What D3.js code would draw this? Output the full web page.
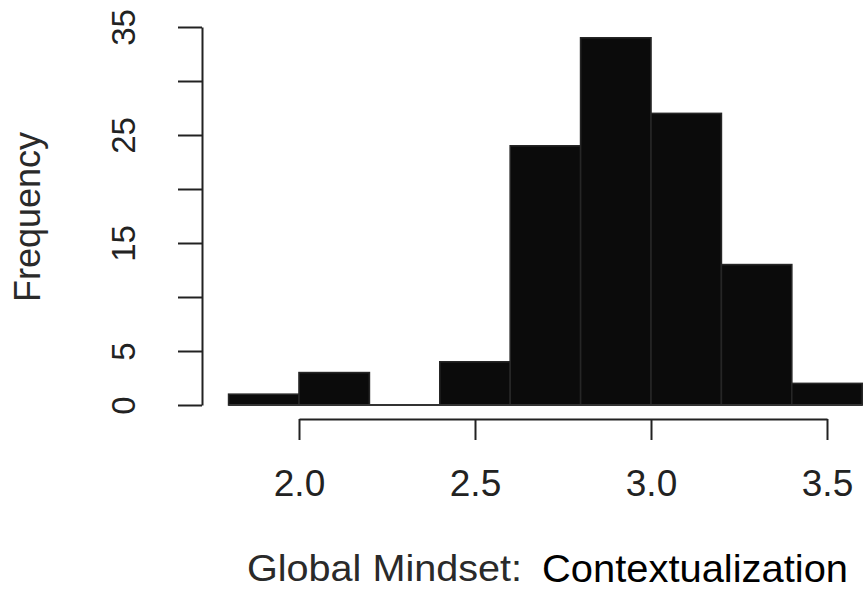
<!DOCTYPE html>
<html>
<head>
<meta charset="utf-8">
<script src="https://cdn.jsdelivr.net/npm/d3@7"></script>
<style>
  html, body { margin: 0; padding: 0; background: #fff; }
  svg { display: block; }
  text { font-family: "Liberation Sans", Arial, Helvetica, sans-serif; }
</style>
</head>
<body>
<svg id="chart" width="865" height="592"></svg>
<script>
// Histogram bins (lower edge, upper edge) and counts
const binStarts = [1.8, 2.0, 2.2, 2.4, 2.6, 2.8, 3.0, 3.2, 3.4];
const binEnds   = [2.0, 2.2, 2.4, 2.6, 2.8, 3.0, 3.2, 3.4, 3.6];
const counts    = [1, 3, 0, 4, 24, 34, 27, 13, 2];

const xTicks = [2.0, 2.5, 3.0, 3.5];
const xTickLabels = ["2.0", "2.5", "3.0", "3.5"];
const yTicks = [0, 5, 10, 15, 20, 25, 30, 35];
const yTickLabels = ["0", "5", "", "15", "", "25", "", "35"];

const xTitleA = "Global Mindset:";
const xTitleB = "Contextualization";
const yTitle = "Frequency";

const svg = d3.select("#chart");
const x = d3.scaleLinear().domain([2.0, 3.5]).range([299, 827]);
const y = d3.scaleLinear().domain([0, 35]).range([405, 27]);

// bars
svg.append("g").selectAll("rect")
  .data(counts.map((c, i) => ({c, a: binStarts[i], b: binEnds[i]})))
  .join("rect")
  .attr("x", d => x(d.a))
  .attr("y", d => y(d.c))
  .attr("width", d => x(d.b) - x(d.a))
  .attr("height", d => y(0) - y(d.c))
  .attr("fill", "#0b0b0b")
  .attr("stroke", "#262626")
  .attr("stroke-width", 1.6);

// bottom edge of the bars (also shows empty bins)
svg.append("line")
  .attr("x1", x(d3.min(binStarts))).attr("x2", x(d3.max(binEnds)))
  .attr("y1", y(0)).attr("y2", y(0))
  .attr("stroke", "#333").attr("stroke-width", 2);

// x axis
const xAxis = d3.axisBottom(x).tickValues(xTicks)
  .tickFormat((d, i) => xTickLabels[i]).tickSize(21).tickSizeOuter(0);
const gx = svg.append("g").attr("transform", "translate(0,419)").call(xAxis);
gx.select(".domain").attr("stroke", "#222").attr("stroke-width", 2);
gx.selectAll(".tick line").attr("stroke", "#222").attr("stroke-width", 2);
gx.selectAll(".tick text").attr("font-size", 37).attr("fill", "#222")
  .attr("dy", null).attr("y", 77);

// y axis
const yAxis = d3.axisLeft(y).tickValues(yTicks)
  .tickFormat((d, i) => yTickLabels[i]).tickSize(24).tickSizeOuter(0);
const gy = svg.append("g").attr("transform", "translate(202,0)").call(yAxis);
gy.select(".domain").attr("stroke", "#222").attr("stroke-width", 2);
gy.selectAll(".tick line").attr("stroke", "#222").attr("stroke-width", 2);
gy.selectAll(".tick text")
  .attr("font-size", 33).attr("fill", "#222")
  .attr("x", null).attr("dy", null)
  .attr("text-anchor", "middle")
  .attr("transform", "translate(-67,0) rotate(-90)");

// y title
svg.append("text")
  .attr("transform", "translate(40,217) rotate(-90)")
  .attr("text-anchor", "middle")
  .attr("font-size", 36)
  .attr("fill", "#2a2a2a")
  .text(yTitle);

// x title
svg.append("text")
  .attr("x", 247).attr("y", 581)
  .attr("font-size", 36)
  .attr("fill", "#2a2a2a")
  .attr("textLength", 275).attr("lengthAdjust", "spacingAndGlyphs")
  .text(xTitleA);
svg.append("text")
  .attr("x", 542).attr("y", 582)
  .attr("font-size", 39)
  .attr("fill", "#000")
  .attr("textLength", 306).attr("lengthAdjust", "spacingAndGlyphs")
  .text(xTitleB);
</script>
</body>
</html>
